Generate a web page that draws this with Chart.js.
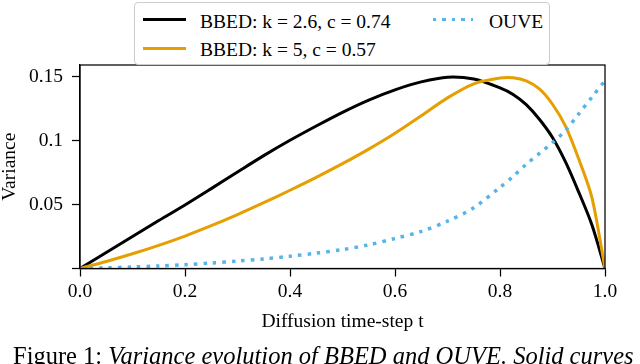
<!DOCTYPE html>
<html>
<head>
<meta charset="utf-8">
<script src="https://cdn.jsdelivr.net/npm/chart.js@4/dist/chart.umd.min.js"></script>
<style>
  html, body { margin: 0; padding: 0; background: #fff; }
  body { width: 640px; height: 364px; overflow: hidden; position: relative; font-family: "Liberation Serif", serif; }
  #wrap { position: absolute; left: 0; top: 0; width: 640px; height: 364px; }
  #legend { position: absolute; left: 134px; top: 2px; width: 414px; height: 61px; background: #fff;
            border: 1px solid #cccccc; border-radius: 4px; z-index: 2; }
  .lt { position: absolute; font-size: 19.5px; line-height: 1; white-space: nowrap; color: #000; }
  .ls { position: absolute; }
  #caption { position: absolute; left: 13px; top: 343.5px; font-size: 24.5px; line-height: 1; white-space: nowrap; color: #000; }
  #probe { position: absolute; left: -999px; top: 0; font-family: "Liberation Serif"; font-size: 19.5px; }
</style>
</head>
<body>
<div id="probe">0.15 Variance</div>
<div id="wrap"><canvas id="c" width="640" height="364"></canvas></div>
<div id="legend"></div>
<div id="caption">Figure 1: <i>Variance evolution of BBED and OUVE. Solid curves</i></div>
<script>
// ---- data ----
const tValues = [0, 0.05, 0.1, 0.15, 0.2, 0.25, 0.3, 0.35, 0.4, 0.45, 0.5, 0.55, 0.6, 0.65, 0.7, 0.75, 0.8, 0.825, 0.85, 0.875, 0.9, 0.925, 0.95, 0.975, 1.0];
const bbedK26 = [0, 0.0125, 0.025, 0.0375, 0.0497, 0.0625, 0.0755, 0.0883, 0.1003, 0.1115, 0.1222, 0.1318, 0.1398, 0.146, 0.1497, 0.1482, 0.1413, 0.1362, 0.1282, 0.1168, 0.1025, 0.0832, 0.0597, 0.0342, 0];
const bbedK5  = [0, 0.0055, 0.0115, 0.0181, 0.0254, 0.0335, 0.0422, 0.0515, 0.0612, 0.0713, 0.082, 0.0934, 0.1058, 0.1195, 0.1335, 0.1445, 0.149, 0.1492, 0.1468, 0.1405, 0.1285, 0.1112, 0.0856, 0.0556, 0];
const ouve    = [0, 0.0005, 0.0012, 0.002, 0.003, 0.0043, 0.0058, 0.0075, 0.0096, 0.012, 0.0148, 0.0185, 0.0235, 0.029, 0.037, 0.0475, 0.0635, 0.072, 0.0815, 0.09, 0.0985, 0.108, 0.121, 0.134, 0.147];
const seriesNames = ["BBED: k = 2.6, c = 0.74", "BBED: k = 5, c = 0.57", "OUVE"];
const xTicks = [0, 0.2, 0.4, 0.6, 0.8, 1.0];
const xTickLabels = ["0.0", "0.2", "0.4", "0.6", "0.8", "1.0"];
const yTicks = [0, 0.05, 0.1, 0.15];
const yTickLabels = ["", "0.05", "0.1", "0.15"];
const xTitle = "Diffusion time-step t";
const yTitle = "Variance";

const colors = ["#000000", "#E69F00", "#56B4E9"];
const FAMILY = '"Liberation Serif", "Times New Roman", serif';

function pts(ys) { return tValues.map((t, i) => ({x: t, y: ys[i]})); }

Chart.defaults.font.family = FAMILY;
Chart.defaults.color = '#000';

const frame = {
  id: 'frame',
  afterDraw(chart) {
    const {ctx, chartArea: a} = chart;
    ctx.save();
    ctx.strokeStyle = '#000';
    ctx.lineWidth = 1.25;
    ctx.strokeRect(a.left, a.top, a.right - a.left, a.bottom - a.top);
    ctx.restore();
  }
};

const tickFont = {family: FAMILY, size: 19.5, lineHeight: 1};

function makeChart() {
  new Chart(document.getElementById('c'), {
    type: 'line',
    data: {
      datasets: [
        {label: seriesNames[0], data: pts(bbedK26), borderColor: colors[0], borderWidth: 3, order: 3},
        {label: seriesNames[1], data: pts(bbedK5), borderColor: colors[1], borderWidth: 3, order: 2},
        {label: seriesNames[2], data: pts(ouve), borderColor: colors[2], borderWidth: 3.5, borderDash: [3.5, 6], borderCapStyle: 'butt', order: 1}
      ]
    },
    options: {
      responsive: false,
      animation: false,
      events: [],
      elements: { point: {radius: 0}, line: {tension: 0.3, fill: false, borderJoinStyle: 'round'} },
      layout: { padding: {top: 65, right: 35, left: 0, bottom: 0} },
      plugins: { legend: {display: false}, tooltip: {enabled: false} },
      scales: {
        x: {
          type: 'linear', min: 0, max: 1,
          afterFit(s) { s.height = 95.5; },
          afterBuildTicks(s) { s.ticks = xTicks.map(v => ({value: v})); },
          ticks: { font: tickFont, padding: 6, maxRotation: 0, autoSkip: false,
                   callback: (v) => { const i = xTicks.findIndex(t => Math.abs(t - v) < 1e-9); return i >= 0 ? xTickLabels[i] : ''; } },
          grid: { drawOnChartArea: false, drawTicks: true, tickLength: 8, tickColor: '#000', tickWidth: 1.25 },
          border: { display: true, color: '#000', width: 1.25 },
          title: { display: true, text: xTitle, font: {family: FAMILY, size: 19.5, lineHeight: 1}, padding: {top: 0, bottom: 32.4} }
        },
        y: {
          type: 'linear', min: 0, max: 0.1592,
          afterFit(s) { s.width = 80; },
          afterBuildTicks(s) { s.ticks = yTicks.map(v => ({value: v})); },
          ticks: { font: tickFont, padding: 9, autoSkip: false,
                   callback: (v) => { const i = yTicks.findIndex(t => Math.abs(t - v) < 1e-9); return i >= 0 ? yTickLabels[i] : ''; } },
          grid: { drawOnChartArea: false, drawTicks: true, tickLength: 8, tickColor: '#000', tickWidth: 1.25 },
          border: { display: true, color: '#000', width: 1.25 },
          title: { display: true, text: yTitle, font: {family: FAMILY, size: 19.5, lineHeight: 1}, padding: {top: 0, bottom: 0} }
        }
      }
    },
    plugins: [frame]
  });
}

// ---- legend (HTML, matplotlib-like layout) ----
const legend = document.getElementById('legend');
const entries = [
  {i: 0, lx: 8, ly: 15, lw: 43, tx: 65, ty: 8.7},
  {i: 1, lx: 8, ly: 44, lw: 43, tx: 65, ty: 37},
  {i: 2, lx: 298, ly: 15, lw: 40, tx: 354, ty: 8.7}
];
entries.forEach(e => {
  const s = document.createElement('div');
  s.className = 'ls';
  s.style.left = e.lx + 'px';
  s.style.width = e.lw + 'px';
  if (e.i === 2) {
    s.style.top = (e.ly - 0.25) + 'px';
    s.style.height = '3.5px';
    s.style.background = 'repeating-linear-gradient(90deg, ' + colors[2] + ' 0 3.5px, transparent 3.5px 9.5px)';
  } else {
    s.style.top = e.ly + 'px';
    s.style.height = '3px';
    s.style.background = colors[e.i];
  }
  legend.appendChild(s);
  const t = document.createElement('div');
  t.className = 'lt';
  t.style.left = e.tx + 'px';
  t.style.top = e.ty + 'px';
  t.textContent = seriesNames[e.i];
  legend.appendChild(t);
});

if (document.fonts && document.fonts.load) {
  document.fonts.load('19.5px "Liberation Serif"').then(makeChart, makeChart);
} else {
  makeChart();
}
</script>
</body>
</html>
